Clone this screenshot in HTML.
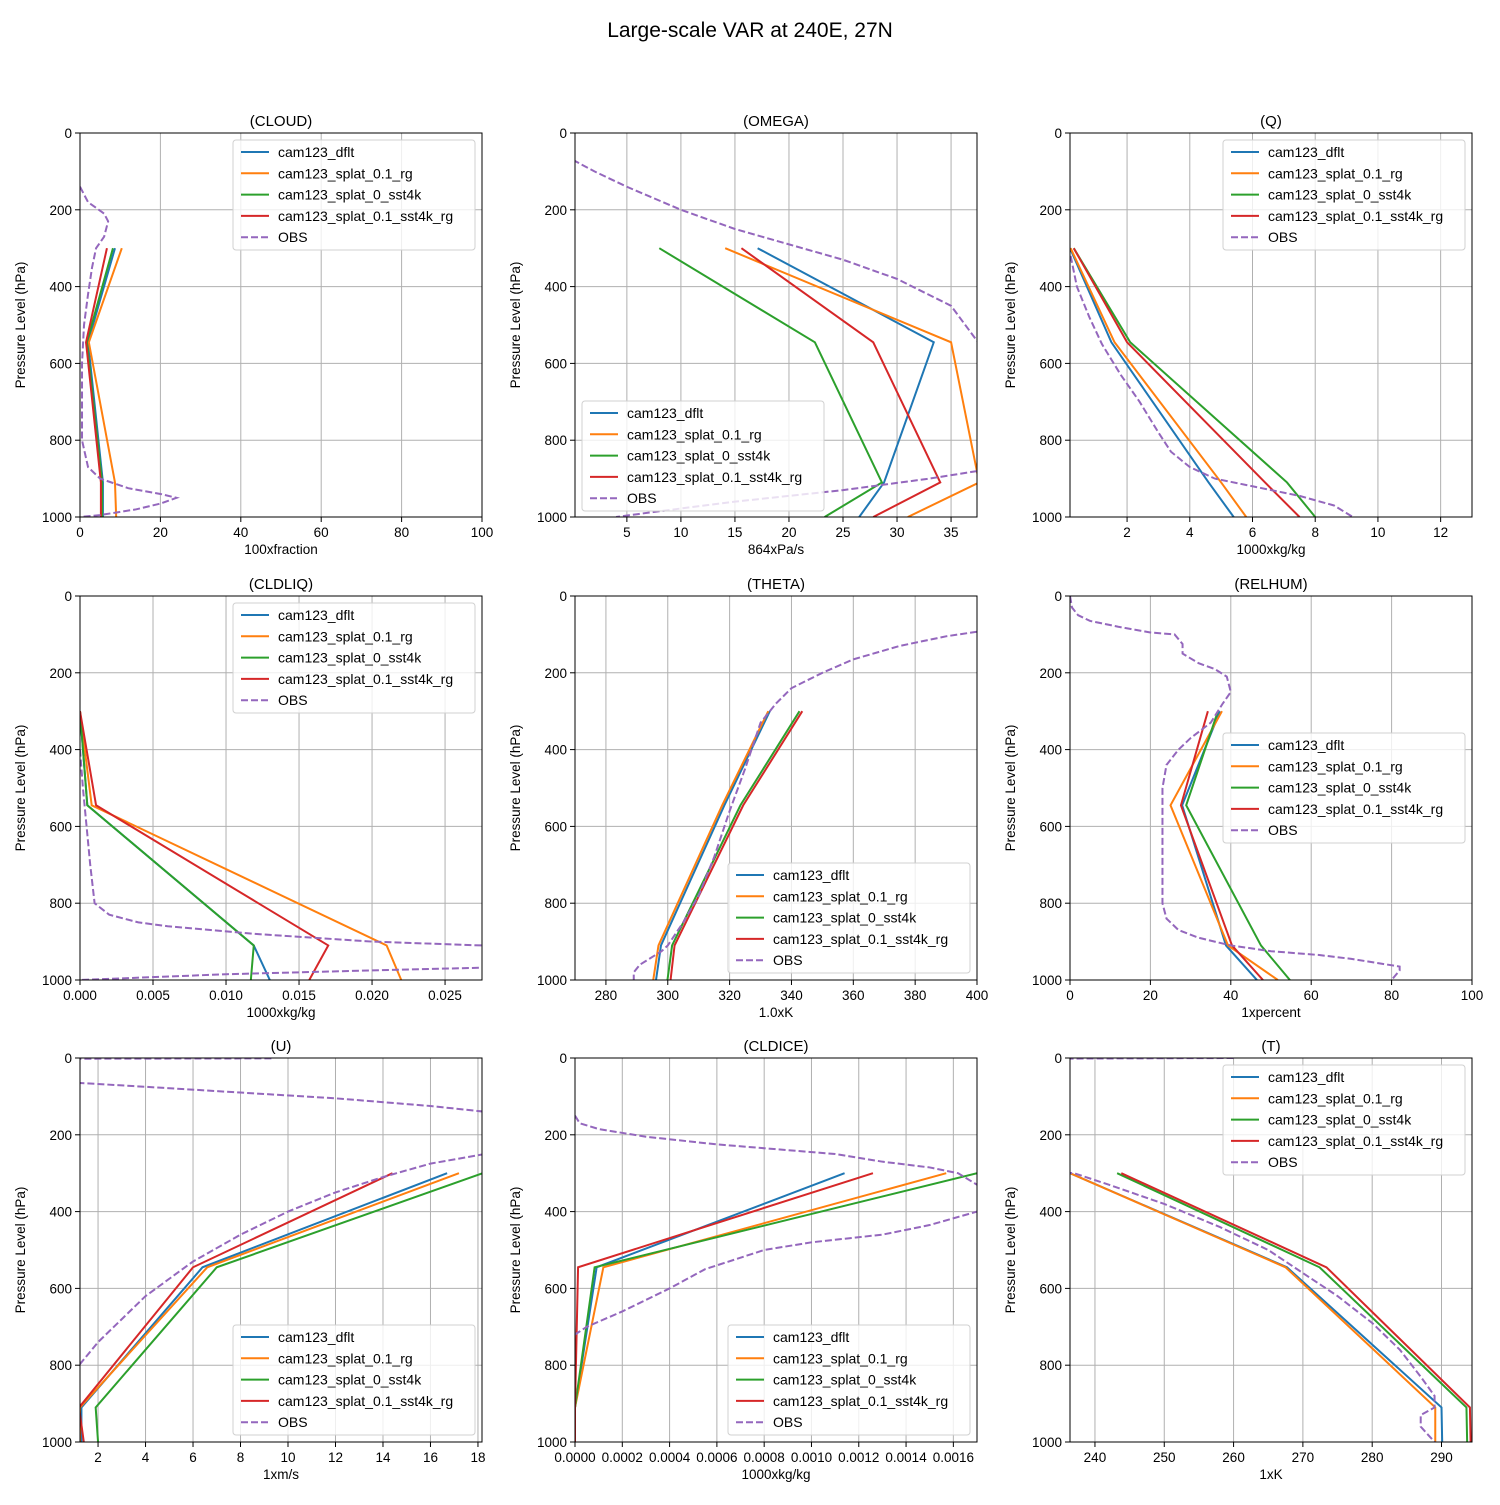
<!DOCTYPE html>
<html><head><meta charset="utf-8"><style>
html,body{margin:0;padding:0;background:#fff;}
svg text{font-family:"Liberation Sans","DejaVu Sans",sans-serif;}
</style></head><body>
<svg id="fig" width="1500" height="1500" xmlns="http://www.w3.org/2000/svg">
<text x="750" y="37" font-size="21" text-anchor="middle">Large-scale VAR at 240E, 27N</text>
</svg>
<script>
const seriesNames = ["cam123_dflt","cam123_splat_0.1_rg","cam123_splat_0_sst4k","cam123_splat_0.1_sst4k_rg","OBS"];
const seriesColors = ["#1f77b4","#ff7f0e","#2ca02c","#d62728","#9467bd"];
const modelLevels = [300,545,910,1000];
const yTicks = [0,200,400,600,800,1000];

const cloudModel = [[8.7,2,5.7,5.7],[10.4,2.2,8.7,9],[8.2,1.7,5.5,5.5],[6.7,1.5,5.2,5.2]];
const cloudObs = [[0,140],[2,180],[6,210],[7,230],[6,270],[4,300],[3,350],[2,420],[1,500],[0.5,600],[0.5,700],[0.5,800],[2,870],[5,900],[12,925],[20,940],[24,950],[20,965],[14,980],[5,995],[0,1000]];
const omegaModel = [[17.1,33.4,28.8,26.5],[14.1,35,37.6,31],[8,22.4,28.6,23.3],[15.6,27.8,34,27.8]];
const omegaObs = [[0,70],[2,100],[5,140],[10,200],[15,250],[20,290],[25,330],[30,380],[35,450],[37.5,545],[45,700],[37.5,880],[33,900],[25,930],[15,960],[8,985],[4,1000]];
const qModel = [[0.18,1.5,4.6,5.4],[0.2,1.6,5.0,5.8],[0.3,2.1,7.1,8.0],[0.3,2.0,6.4,7.5]];
const qObs = [[0.2,320],[0.4,400],[0.8,480],[1.2,550],[1.8,630],[2.4,700],[3,780],[3.4,830],[4,870],[4.8,900],[6,920],[7.5,945],[8.6,970],[9.2,1000]];
const cldliqModel = [[0,0.0005,0.0119,0.013],[0,0.0008,0.021,0.022],[0,0.0005,0.0119,0.0117],[0,0.0011,0.017,0.0157]];
const cldliqObs = [[0,400],[0.0002,500],[0.0007,700],[0.001,800],[0.002,830],[0.004,850],[0.006,860],[0.012,880],[0.02,900],[0.0275,910],[0.035,940],[0.0275,968],[0.02,975],[0.01,985],[0,1000]];
const thetaModel = [[333,318.3,297.8,296.2],[332.5,317.6,297,295.3],[342.6,323.5,301.4,299.9],[343.5,324.4,302.2,300.9]];
const thetaObs = [[400,93],[390,105],[375,130],[360,165],[350,200],[340,240],[335,280],[330,330],[325,450],[320,560],[315,680],[310,780],[305,850],[300,910],[298,925],[294,945],[291,960],[289,980],[289,1000]];
const relhumModel = [[37.3,27.9,38.8,46.5],[37.8,25,39.3,51.7],[36.8,28.9,47.5,54.7],[34.3,27.6,40.3,48]];
const relhumObs = [[0,0],[0.5,30],[2,50],[5,65],[12,80],[20,95],[26,100],[28,125],[28,150],[32,175],[36,190],[39,210],[40,250],[38,280],[35,330],[30,370],[27,400],[24,440],[23,500],[23,600],[23,700],[23,800],[24,840],[27,870],[32,890],[40,910],[50,925],[62,935],[70,945],[76,955],[82,965],[82,975],[80,1000]];
const uModel = [[16.7,6.4,1.3,1.3],[17.2,6.6,1.24,1.24],[18.2,7.0,1.9,2.0],[14.4,6.0,1.2,1.4]];
const uObs = [[9.3,1],[0,2],[0,60],[1.24,65],[4,75],[8,90],[12,105],[16,125],[18.3,140],[25,200],[18.3,250],[16,275],[14,310],[12,350],[10,400],[8,460],[6,530],[4,620],[2,740],[1.2,800]];
const cldiceModel = [[0.00114,0.0000916,0,0],[0.00157,0.00012,0,0],[0.0017,0.000083,0,0],[0.00126,0.000013,0,0]];
const cldiceObs = [[0,150],[0.00002,170],[0.0001,185],[0.0003,205],[0.0006,225],[0.0009,240],[0.0011,250],[0.0013,270],[0.0015,285],[0.00162,300],[0.0017,330],[0.0019,370],[0.0017,400],[0.0015,435],[0.0013,460],[0.001,480],[0.0008,500],[0.00055,550],[0.0004,600],[0.0002,660],[0.00005,700],[0,720]];
const tModel = [[236.4,267.7,290,290.1],[236.4,267.5,289.1,289.1],[243.2,272.4,293.6,293.7],[243.8,273.4,294.1,294.2]];
const tObs = [[260,0],[230,2],[230,295],[237,300],[242,330],[250,380],[258,440],[265,500],[270,560],[275,620],[280,690],[284,760],[287,830],[289,880],[289,910],[287,930],[287,960],[289,1000]];

const panels = [
 {id:"cloud",title:"(CLOUD)",xl:"100xfraction",x0:80,y0:133,xmin:0,xmax:100,ticks:[0,20,40,60,80,100],fmt:v=>v,model:cloudModel,obs:cloudObs,leg:[233,140]},
 {id:"omega",title:"(OMEGA)",xl:"864xPa/s",x0:575,y0:133,xmin:0.2,xmax:37.4,ticks:[5,10,15,20,25,30,35],fmt:v=>v,model:omegaModel,obs:omegaObs,leg:[582,401]},
 {id:"q",title:"(Q)",xl:"1000xkg/kg",x0:1070,y0:133,xmin:0.18,xmax:13,ticks:[2,4,6,8,10,12],fmt:v=>v,model:qModel,obs:qObs,leg:[1223,140]},
 {id:"cldliq",title:"(CLDLIQ)",xl:"1000xkg/kg",x0:80,y0:596,xmin:0,xmax:0.02753,ticks:[0,0.005,0.01,0.015,0.02,0.025],fmt:v=>v.toFixed(3),model:cldliqModel,obs:cldliqObs,leg:[233,603]},
 {id:"theta",title:"(THETA)",xl:"1.0xK",x0:575,y0:596,xmin:270,xmax:400,ticks:[280,300,320,340,360,380,400],fmt:v=>v,model:thetaModel,obs:thetaObs,leg:[728,863]},
 {id:"relhum",title:"(RELHUM)",xl:"1xpercent",x0:1070,y0:596,xmin:0,xmax:100,ticks:[0,20,40,60,80,100],fmt:v=>v,model:relhumModel,obs:relhumObs,leg:[1223,733]},
 {id:"u",title:"(U)",xl:"1xm/s",x0:80,y0:1058,xmin:1.24,xmax:18.17,ticks:[2,4,6,8,10,12,14,16,18],fmt:v=>v,model:uModel,obs:uObs,leg:[233,1325]},
 {id:"cldice",title:"(CLDICE)",xl:"1000xkg/kg",x0:575,y0:1058,xmin:0,xmax:0.0017,ticks:[0,0.0002,0.0004,0.0006,0.0008,0.001,0.0012,0.0014,0.0016],fmt:v=>v.toFixed(4),model:cldiceModel,obs:cldiceObs,leg:[728,1325]},
 {id:"t",title:"(T)",xl:"1xK",x0:1070,y0:1058,xmin:236.4,xmax:294.4,ticks:[240,250,260,270,280,290],fmt:v=>v,model:tModel,obs:tObs,leg:[1223,1065]}
];
const W=402,H=384,NS="http://www.w3.org/2000/svg";
const svg=document.getElementById("fig");
function mk(tag,attrs,parent){const e=document.createElementNS(NS,tag);for(const k in attrs)e.setAttribute(k,attrs[k]);(parent||svg).appendChild(e);return e;}
panels.forEach(p=>{
  const g=mk("g",{});
  
  
  const sx=v=>p.x0+(v-p.xmin)/(p.xmax-p.xmin)*W;
  const sy=v=>p.y0+v/1000*H;
  const cp=mk("clipPath",{id:"c"+p.id},g);mk("rect",{x:p.x0,y:p.y0,width:W,height:H},cp);
  p.ticks.forEach(t=>{const x=sx(t);
    mk("line",{x1:x,x2:x,y1:p.y0,y2:p.y0+H,stroke:"#b0b0b0","stroke-width":1},g);
    mk("line",{x1:x,x2:x,y1:p.y0+H,y2:p.y0+H+5,stroke:"#000"},g);
    const tx=mk("text",{x:x,y:p.y0+H+20,"font-size":13.5,"text-anchor":"middle"},g);tx.textContent=p.fmt(t);
    
    
  });
  yTicks.forEach(t=>{const y=sy(t);
    mk("line",{x1:p.x0,x2:p.x0+W,y1:y,y2:y,stroke:"#b0b0b0","stroke-width":1},g);
    mk("line",{x1:p.x0-5,x2:p.x0,y1:y,y2:y,stroke:"#000"},g);
    const tx=mk("text",{x:p.x0-8,y:y+5,"font-size":13.5,"text-anchor":"end"},g);tx.textContent=t;
    
    
  });
  const lg=mk("g",{"clip-path":"url(#c"+p.id+")"},g);
  p.model.forEach((vals,i)=>{
    const pts=vals.map((v,j)=>sx(v)+","+sy(modelLevels[j])).join(" ");
    const l=mk("polyline",{points:pts,fill:"none",stroke:seriesColors[i],"stroke-width":2},lg);
    
    
  });
  const op=p.obs.map(d=>sx(d[0])+","+sy(d[1])).join(" ");
  const ol=mk("polyline",{points:op,fill:"none",stroke:seriesColors[4],"stroke-width":2,"stroke-dasharray":"7,3"},lg);
  
  
  mk("rect",{x:p.x0,y:p.y0,width:W,height:H,fill:"none",stroke:"#000","stroke-width":1},g);
  const tt=mk("text",{x:p.x0+W/2,y:p.y0-7,"font-size":15,"text-anchor":"middle"},g);tt.textContent=p.title;
  
  
  const xl=mk("text",{x:p.x0+W/2,y:p.y0+H+37,"font-size":13.5,"text-anchor":"middle"},g);xl.textContent=p.xl;
  
  
  const yx=p.x0-55,yy=p.y0+H/2;
  const yl=mk("text",{x:yx,y:yy,"font-size":13.5,"text-anchor":"middle",transform:"rotate(-90 "+yx+" "+yy+")"},g);yl.textContent="Pressure Level (hPa)";
  
  
  const [lx,ly]=p.leg;
  const lgd=mk("g",{},g);
  
  
  mk("rect",{x:lx,y:ly,width:242,height:110,rx:3,fill:"#fff","fill-opacity":0.8,stroke:"#d0d0d0"},lgd);
  seriesNames.forEach((n,i)=>{const y=ly+12+i*21.3;
    const e=mk("g",{},lgd);
    
    
    const a={x1:lx+8,x2:lx+36,y1:y,y2:y,stroke:seriesColors[i],"stroke-width":2};
    if(i==4)a["stroke-dasharray"]="7,3";
    mk("line",a,e);
    const t=mk("text",{x:lx+45,y:y+5,"font-size":14},e);t.textContent=n;
  });
});
</script>
</body></html>
